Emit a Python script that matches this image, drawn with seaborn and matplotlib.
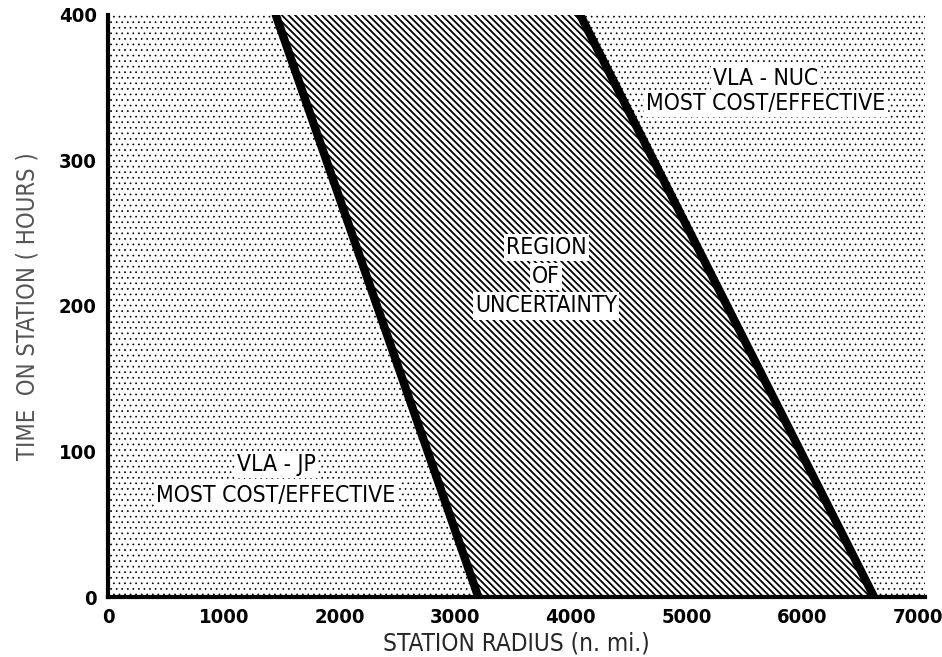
import matplotlib
matplotlib.use("Agg")
import matplotlib.pyplot as plt
import pandas as pd
import seaborn as sns

# boundary lines (station radius at 0 and 400 hours)
time_hours = [0, 400]
jp_boundary = [3200, 1450]
nuc_boundary = [6620, 4080]

x_ticks = [0, 1000, 2000, 3000, 4000, 5000, 6000, 7000]
y_ticks = [0, 100, 200, 300, 400]

sns.set_style("white")
plt.rcParams["font.family"] = ["DejaVu Sans"]
plt.rcParams["font.stretch"] = "condensed"
plt.rcParams["text.color"] = "black"
plt.rcParams["xtick.color"] = "black"
plt.rcParams["ytick.color"] = "black"

fig = plt.figure(figsize=(9.42, 6.57), dpi=100)
ax = fig.add_axes([0.1146, 0.0913, 0.8674, 0.886])

x_max = 7060
with plt.rc_context({"hatch.linewidth": 0.5}):
    ax.fill_betweenx(time_hours, 0, jp_boundary, facecolor="white",
                     edgecolor="black", hatch="...", linewidth=0)
    ax.fill_betweenx(time_hours, nuc_boundary, x_max, facecolor="white",
                     edgecolor="black", hatch="...", linewidth=0)
with plt.rc_context({"hatch.linewidth": 1.3}):
    ax.fill_betweenx(time_hours, jp_boundary, nuc_boundary, facecolor="white",
                     edgecolor="black", hatch="\\" * 5, linewidth=0)

lines = pd.DataFrame({
    "hours": time_hours * 2,
    "radius": jp_boundary + nuc_boundary,
    "boundary": ["JP"] * 2 + ["NUC"] * 2,
})
sns.lineplot(data=lines, x="radius", y="hours", units="boundary",
             estimator=None, color="black", linewidth=6, sort=False, ax=ax)

ax.set_xlim(0, x_max)
ax.set_ylim(0, 400)
ax.set_xticks(x_ticks)
ax.set_yticks(y_ticks)
ax.tick_params(direction="in", length=7, width=2, labelsize=14.5, pad=8)
for lab in ax.get_xticklabels() + ax.get_yticklabels():
    lab.set_fontweight("bold")
for s in ["top", "right"]:
    ax.spines[s].set_visible(False)
for s in ["left", "bottom"]:
    ax.spines[s].set_linewidth(3)
    ax.spines[s].set_color("black")

ax.set_xlabel("STATION RADIUS (n. mi.)", fontsize=17.5, labelpad=3)
ax.set_ylabel("TIME  ON STATION ( HOURS )", fontsize=17, color="#555555", labelpad=14)

box = dict(facecolor="white", edgecolor="none", pad=1.5)
labels = [
    (5680, 356, "VLA - NUC"), (5680, 339, "MOST COST/EFFECTIVE"),
    (1452, 91, "VLA - JP"), (1452, 70, "MOST COST/EFFECTIVE"),
    (3786, 240, "REGION"), (3786, 220, "OF"), (3786, 200, "UNCERTAINTY"),
]
for x, y, t in labels:
    ax.text(x, y, t, ha="center", va="center", fontsize=16.5, bbox=box)

plt.savefig("out.png", dpi=100)
